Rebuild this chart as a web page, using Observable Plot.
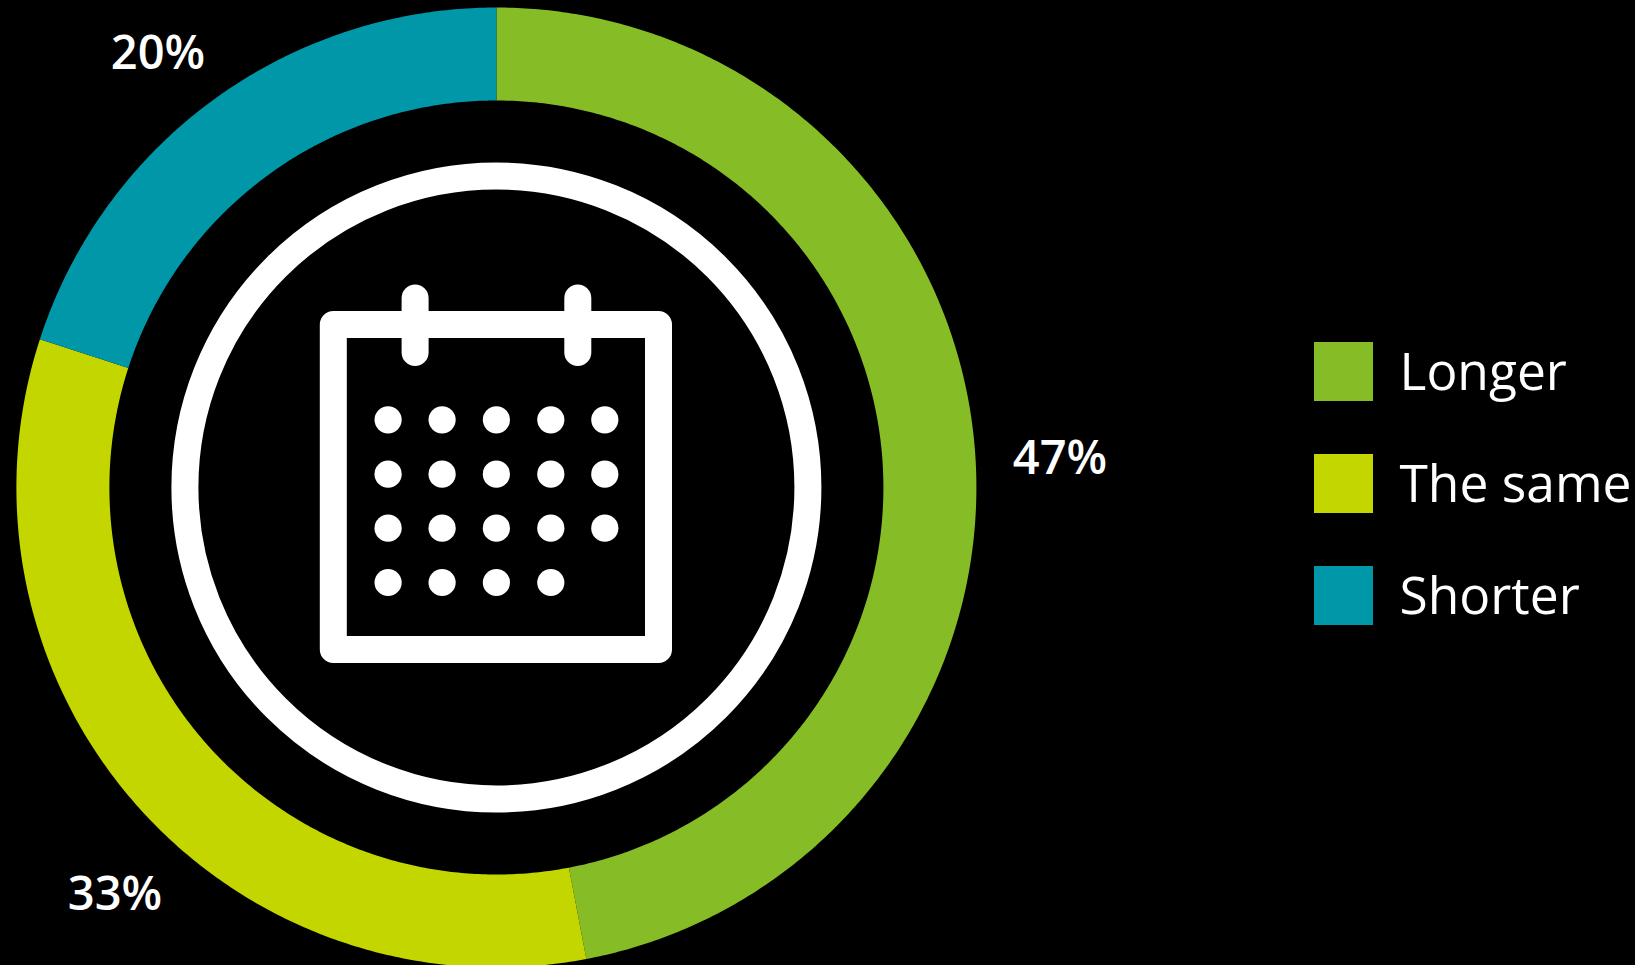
<!DOCTYPE html>
<html>
<head>
<meta charset="utf-8">
<script src="https://cdn.jsdelivr.net/npm/d3@7"></script>
<script src="https://cdn.jsdelivr.net/npm/@observablehq/plot@0.6"></script>
<style>
  html, body { margin: 0; padding: 0; background: #000; }
  svg { display: block; }
</style>
</head>
<body>
<div id="chart"></div>
<script>
// Survey answers, clockwise from twelve o'clock
const categories = ["Longer", "The same", "Shorter"];
const shares = [47, 33, 20];
const colors = ["#86BC25", "#C4D600", "#0097A9"];

// Percentage label placement, in the same order as the categories
const labelX = [1059.5, 114.5, 157.5];
const labelY = [473.5, 909.5, 68.5];

const WIDTH = 1635, HEIGHT = 965;
const CX = 495.9, CY = 487;
const R_OUTER = 480, R_INNER = 387;

// One closed band of the ring per category, derived from the shares
const total = d3.sum(shares);
const cumulative = d3.cumsum(shares);
const polar = (frac, r) => {
  const a = frac * 2 * Math.PI;
  return { x: CX + r * Math.sin(a), y: CY - r * Math.cos(a) };
};
const bands = categories.flatMap((category, i) => {
  const end = cumulative[i] / total;
  const start = end - shares[i] / total;
  const steps = Math.ceil((end - start) * 720);
  const fracs = d3.range(steps + 1).map((k) => start + (end - start) * k / steps);
  return [
    ...fracs.map((f) => ({ category, ...polar(f, R_OUTER) })),
    ...fracs.slice().reverse().map((f) => ({ category, ...polar(f, R_INNER) }))
  ];
});

// Calendar icon in the middle of the ring
const ICON_STROKE = 27;
const pegs = [414.6, 577.3].map((x) => ({ x, y1: 297.5, y2: 352 }));
const dayCols = [387.6, 441.6, 495.9, 550.3, 604.3];
const dayRows = [419.3, 473.7, 527.7, 582];
const days = dayRows.flatMap((y, row) =>
  dayCols.filter((_, col) => row < 3 || col < 4).map((x) => ({ x, y }))
);

// Legend rows
const SWATCH = { x1: 1314, x2: 1373, top: 342, size: 59, step: 112 };
const legend = categories.map((category, i) => ({
  category,
  y1: SWATCH.top + i * SWATCH.step,
  y2: SWATCH.top + i * SWATCH.step + SWATCH.size,
  baseline: 389 + i * SWATCH.step
}));

const percentLabels = categories.map((category, i) => ({
  text: `${shares[i]}%`,
  x: labelX[i],
  y: labelY[i]
}));

const chart = Plot.plot({
  width: WIDTH,
  height: HEIGHT,
  margin: 0,
  style: { background: "#000" },
  x: { domain: [0, WIDTH], range: [0, WIDTH], axis: null },
  y: { domain: [0, HEIGHT], range: [0, HEIGHT], axis: null },
  color: { domain: categories, range: colors },
  marks: [
    Plot.line(bands, {
      x: "x", y: "y", z: "category", fill: "category",
      stroke: "none", curve: "linear-closed"
    }),
    // white circle around the icon
    Plot.dot([{ x: CX, y: CY }], {
      x: "x", y: "y", r: 311.5, fill: "none", stroke: "white", strokeWidth: ICON_STROKE
    }),
    // calendar sheet, binder pegs and day dots
    Plot.rect([{ x1: 333.3, x2: 658.5, y1: 324.5, y2: 649.5 }], {
      x1: "x1", x2: "x2", y1: "y1", y2: "y2",
      fill: "none", stroke: "white", strokeWidth: ICON_STROKE, strokeLinejoin: "round"
    }),
    Plot.link(pegs, {
      x1: "x", x2: "x", y1: "y1", y2: "y2",
      stroke: "white", strokeWidth: ICON_STROKE, strokeLinecap: "round"
    }),
    Plot.dot(days, { x: "x", y: "y", r: 13.6, fill: "white", stroke: "none" }),
    // percentage labels
    Plot.text(percentLabels, {
      x: "x", y: "y", text: "text", fill: "white",
      fontFamily: "Open Sans", fontSize: 47, fontWeight: 600,
      textAnchor: "middle", lineAnchor: "bottom"
    }),
    // legend
    Plot.rect(legend, {
      x1: SWATCH.x1, x2: SWATCH.x2, y1: "y1", y2: "y2", fill: "category"
    }),
    Plot.text(legend, {
      x: 1399, y: "baseline", text: "category", fill: "white",
      fontFamily: "Open Sans", fontSize: 51.5, fontWeight: 400,
      textAnchor: "start", lineAnchor: "bottom"
    })
  ]
});

document.getElementById("chart").appendChild(chart);
</script>
</body>
</html>
